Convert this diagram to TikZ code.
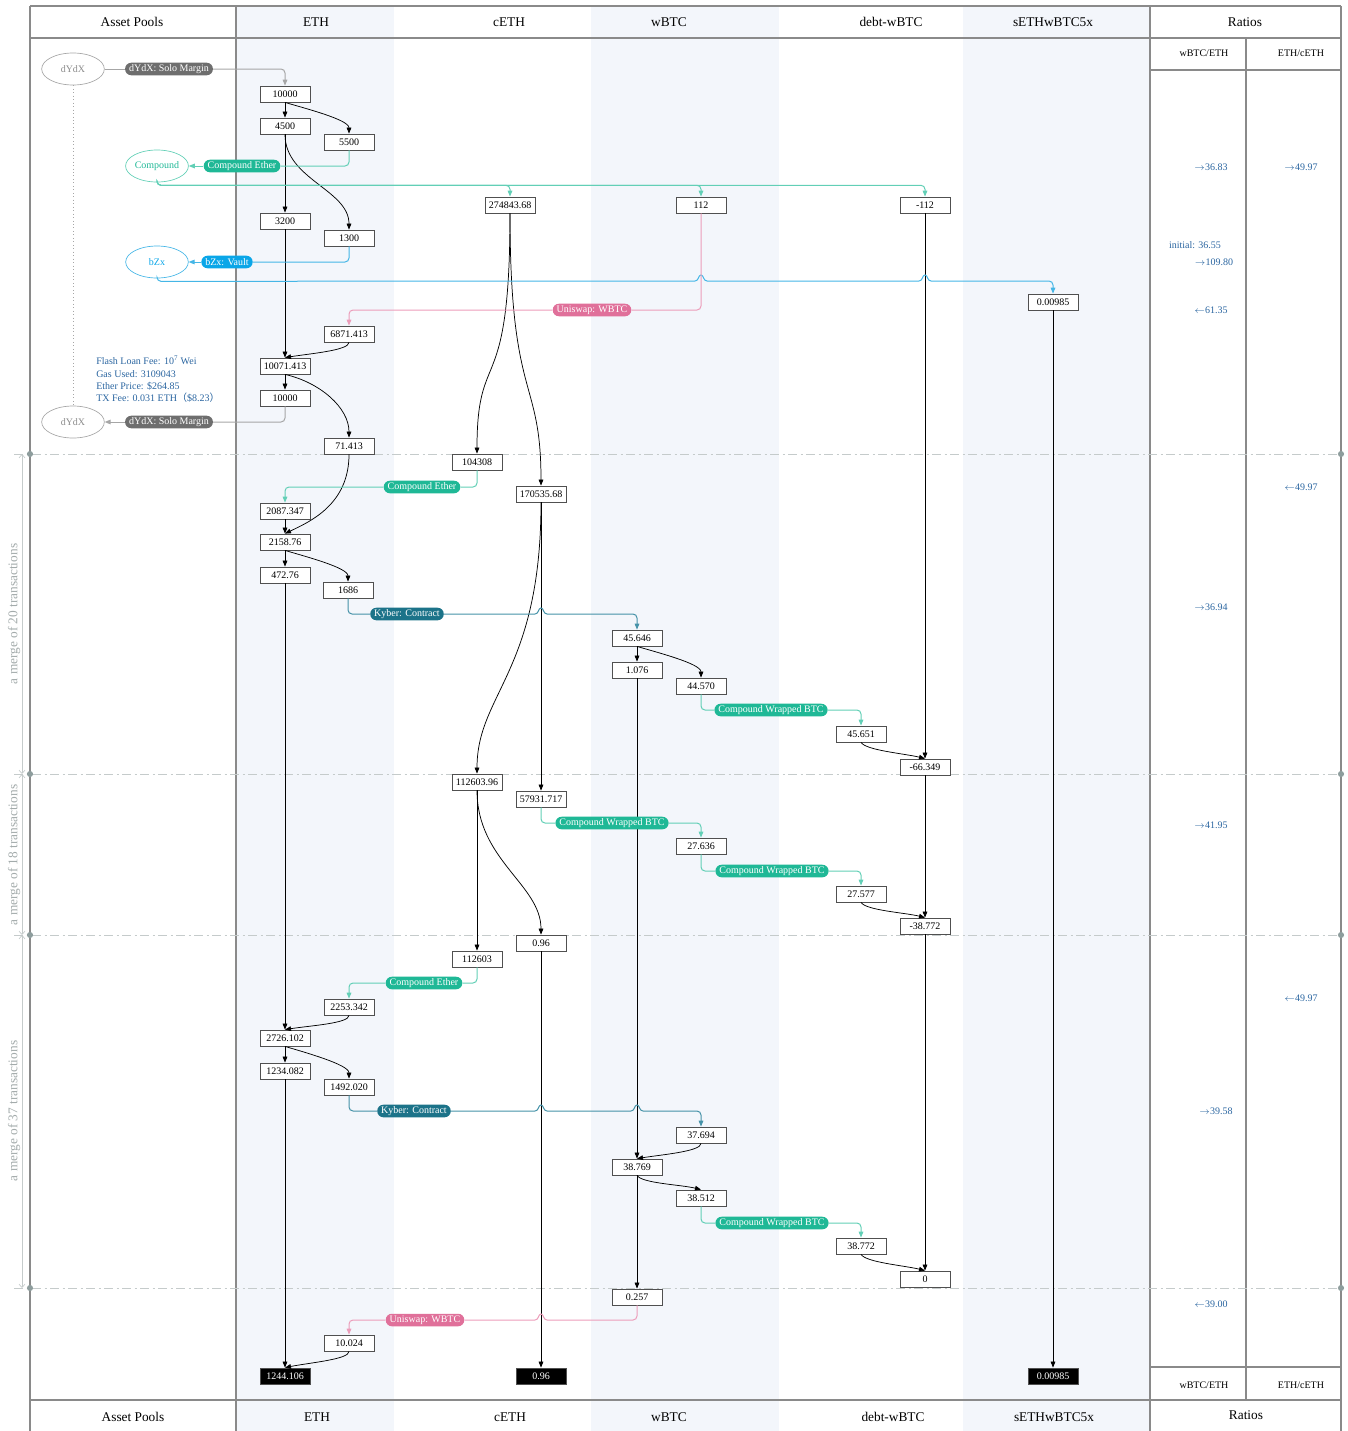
\documentclass[tikz,border=0pt]{standalone}
\usepackage{fontspec}
\setmainfont{Liberation Serif}
\newfontfamily\cjk{Noto Sans CJK SC}
\usetikzlibrary{arrows.meta, shapes.geometric}

\definecolor{colshade}{HTML}{F3F6FB}
\definecolor{framec}{HTML}{8A8A8A}
\definecolor{boxc}{HTML}{505050}
\definecolor{dydxc}{HTML}{6E6E6E}
\definecolor{dydxln}{HTML}{A6A6A6}
\definecolor{compc}{HTML}{1FB896}
\definecolor{compln}{HTML}{62CFB6}
\definecolor{bzxc}{HTML}{0AA6E8}
\definecolor{bzxln}{HTML}{45B6E6}
\definecolor{unic}{HTML}{E0709A}
\definecolor{uniln}{HTML}{EC9DBA}
\definecolor{kybc}{HTML}{1C7389}
\definecolor{kybln}{HTML}{4592A8}
\definecolor{notec}{HTML}{2A65A0}
\definecolor{cutc}{HTML}{C5CBCB}
\definecolor{cutdot}{HTML}{8E9D9D}
\definecolor{mergec}{HTML}{A3ABAB}

\newcommand{\valfont}{\fontsize{7.5}{8}\selectfont}
\newcommand{\headfont}{\fontsize{10}{12}\selectfont}
\newcommand{\smallfont}{\fontsize{7.5}{8}\selectfont}
\newcommand{\ra}{$\rightarrow$}
\newcommand{\la}{$\leftarrow$}
% little bridge where a wire jumps over a line
\newcommand{\hop}[2]{[sharp corners] -- ({#1-6},#2) .. controls ({#1-2},#2) and ({#1-3},{#2-6}) .. (#1,{#2-6}) .. controls ({#1+3},{#2-6}) and ({#1+2},#2) .. ({#1+6},#2) [rounded corners=3pt]}

\begin{document}
\begin{tikzpicture}[x=0.75pt, y=-0.75pt,
    valbox/.style={draw=boxc, line width=0.6pt, fill=white, minimum width=37.5pt, minimum height=12pt, inner sep=1pt, font=\valfont},
    endval/.style={valbox, fill=black, text=white},
    pill/.style={fill=#1, text=white, rounded corners=4.6pt, minimum height=9.4pt, inner xsep=3pt, inner ysep=0pt, font=\valfont},
    pool/.style={ellipse, draw=#1, line width=0.5pt, minimum width=47pt, minimum height=24pt, inner sep=0pt, font=\valfont},
    flow/.style={line width=0.55pt, -{Triangle[length=4.5pt,width=3.5pt]}},
    wire/.style={draw=#1, line width=0.75pt, rounded corners=3pt},
    wirearrow/.style={wire=#1, -{Triangle[length=4.5pt,width=3.5pt]}},
    framel/.style={draw=framec, line width=0.8pt},
    cutline/.style={draw=cutc, line width=0.7pt, dash pattern=on 7pt off 2.5pt on 1.5pt off 2.5pt},
    bracket/.style={draw=cutc, line width=0.5pt, {Straight Barb[length=2.5pt,width=4.5pt]}-{Straight Barb[length=2.5pt,width=4.5pt]}},
    mergetxt/.style={text=mergec, font=\headfont, rotate=90},
    rtxt/.style={text=notec, font=\smallfont, inner sep=0pt},
    headtxt/.style={font=\headfont},
    subhead/.style={font=\smallfont}]

\useasboundingbox (0,0) rectangle (1347,1431);

% column shading
\fill[colshade] (236,6) rectangle (394,1431);
\fill[colshade] (591,6) rectangle (779,1431);
\fill[colshade] (963,6) rectangle (1150,1431);

% table frame
\draw[framel] (30,6) -- (1341,6);
\draw[framel] (30,38) -- (1341,38);
\draw[framel] (30,1400) -- (1341,1400);
\draw[framel] (1150,70) -- (1341,70);
\draw[framel] (1150,1367) -- (1341,1367);
\draw[framel] (1246,38) -- (1246,1400);
\draw[framel] (30,6) -- (30,1431);
\draw[framel] (236,6) -- (236,1431);
\draw[framel] (1150,6) -- (1150,1431);
\draw[framel] (1341,6) -- (1341,1431);

% column titles
\node[headtxt] (tPools) at (132,22) {Asset Pools};
\node[headtxt] (tEth) at (316,22) {ETH};
\node[headtxt] (tCeth) at (509,22) {cETH};
\node[headtxt] (tWbtc) at (669,22) {wBTC};
\node[headtxt] (tDebt) at (891,22) {debt-wBTC};
\node[headtxt] (tSeth) at (1053,22) {sETHwBTC5x};
\node[headtxt] (tRatio) at (1245,22) {Ratios};
\node[subhead] (tRa) at (1204,53) {wBTC/ETH};
\node[subhead] (tRb) at (1301,53) {ETH/cETH};
\node[headtxt] (bPools) at (133,1417) {Asset Pools};
\node[headtxt] (bEth) at (317,1417) {ETH};
\node[headtxt] (bCeth) at (510,1417) {cETH};
\node[headtxt] (bWbtc) at (669,1417) {wBTC};
\node[headtxt] (bDebt) at (893,1417) {debt-wBTC};
\node[headtxt] (bSeth) at (1054,1417) {sETHwBTC5x};
\node[headtxt] (bRatio) at (1246,1415) {Ratios};
\node[subhead] (bRa) at (1204,1385) {wBTC/ETH};
\node[subhead] (bRb) at (1301,1385) {ETH/cETH};

% transaction groups
\foreach \y in {454,774,935,1288} {
  \draw[cutline] (14,\y) -- (1341,\y);
  \fill[cutdot] (30,\y) circle[radius=2.3pt];
  \fill[cutdot] (1341,\y) circle[radius=2.3pt];
}
\draw[bracket] (22,454) -- (22,774);
\draw[bracket] (22,774) -- (22,935);
\draw[bracket] (22,935) -- (22,1288);
\node[mergetxt] (m20) at (14,614) {a merge of 20 transactions};
\node[mergetxt] (m18) at (14,855) {a merge of 18 transactions};
\node[mergetxt] (m37) at (14,1111) {a merge of 37 transactions};

% pools
\node[pool=dydxln, text=dydxc!80] (dydxA) at (73,69) {dYdX};
\node[pool=dydxln, text=dydxc!80] (dydxB) at (73,422) {dYdX};
\node[pool=compln, text=compc] (comp) at (157,166) {Compound};
\node[pool=bzxln, text=bzxc] (bzx) at (157,262) {bZx};
\draw[dydxln, line width=0.6pt, dotted] (dydxA.south) -- (dydxB.north);

\node[text=notec, font=\fontsize{7.5}{9.3}\selectfont, align=left, anchor=west, inner sep=0pt] (fees) at (96,379.5)
  {Flash Loan Fee: 10\textsuperscript{7} Wei\\Gas Used: 3109043\\Ether Price: \$264.85\\TX Fee: 0.031 ETH{\cjk （}\$8.23{\cjk ）}};

% ETH
\node[valbox] (e1) at (285,94) {10000};
\node[valbox] (e2) at (285,126) {4500};
\node[valbox] (e3) at (349,142) {5500};
\node[valbox] (e4) at (285,221) {3200};
\node[valbox] (e5) at (349,238) {1300};
\node[valbox] (e6) at (349,334) {6871.413};
\node[valbox] (e7) at (285,366) {10071.413};
\node[valbox] (e8) at (285,398) {10000};
\node[valbox] (e9) at (349,446) {71.413};
\node[valbox] (e10) at (285,511) {2087.347};
\node[valbox] (e11) at (285,542) {2158.76};
\node[valbox] (e12) at (285,575) {472.76};
\node[valbox] (e13) at (348,590) {1686};
\node[valbox] (e14) at (349,1007) {2253.342};
\node[valbox] (e15) at (285,1038) {2726.102};
\node[valbox] (e16) at (285,1071) {1234.082};
\node[valbox] (e17) at (349,1087) {1492.020};
\node[valbox] (e18) at (349,1343) {10.024};
\node[endval] (eEnd) at (285,1376) {1244.106};

% cETH
\node[valbox] (c1) at (510,205) {274843.68};
\node[valbox] (c2) at (477,462) {104308};
\node[valbox] (c3) at (541,494) {170535.68};
\node[valbox] (c4) at (477,782) {112603.96};
\node[valbox] (c5) at (541,799) {57931.717};
\node[valbox] (c6) at (541,943) {0.96};
\node[valbox] (c7) at (477,959) {112603};
\node[endval] (cEnd) at (541,1376) {0.96};

% wBTC
\node[valbox] (w1) at (701,205) {112};
\node[valbox] (w2) at (637,638) {45.646};
\node[valbox] (w3) at (637,670) {1.076};
\node[valbox] (w4) at (701,686) {44.570};
\node[valbox] (w5) at (701,846) {27.636};
\node[valbox] (w6) at (701,1135) {37.694};
\node[valbox] (w7) at (637,1167) {38.769};
\node[valbox] (w8) at (701,1198) {38.512};
\node[valbox] (w9) at (637,1297) {0.257};

% debt-wBTC
\node[valbox] (d1) at (925,205) {-112};
\node[valbox] (d2) at (861,734) {45.651};
\node[valbox] (d3) at (925,767) {-66.349};
\node[valbox] (d4) at (861,894) {27.577};
\node[valbox] (d5) at (925,926) {-38.772};
\node[valbox] (d6) at (861,1246) {38.772};
\node[valbox] (d7) at (925,1279) {0};

% sETHwBTC5x
\node[valbox] (s1) at (1053,302) {0.00985};
\node[endval] (sEnd) at (1053,1376) {0.00985};

% balance flows
\draw[flow] (e1.south) -- (e2.north);
\draw[flow] (e1.south) .. controls +(20,6) and +(0,-14) .. (e3.north);
\draw[flow] (e2.south) -- (e4.north);
\draw[flow] (e2.south) .. controls +(0,45) and +(0,-40) .. (e5.north);
\draw[flow] (e4.south) -- (e7.north);
\draw[flow] (e6.south) .. controls +(0,8) and +(25,-4) .. (e7.north);
\draw[flow] (e7.south) -- (e8.north);
\draw[flow] (e7.south) .. controls +(35,8) and +(0,-30) .. (e9.north);
\draw[flow] (e9.south) .. controls +(0,50) and +(25,-12) .. (e11.north);
\draw[flow] (e10.south) -- (e11.north);
\draw[flow] (e11.south) -- (e12.north);
\draw[flow] (e11.south) .. controls +(20,6) and +(0,-14) .. (e13.north);
\draw[flow] (e12.south) -- (e15.north);
\draw[flow] (e14.south) .. controls +(0,8) and +(25,-4) .. (e15.north);
\draw[flow] (e15.south) -- (e16.north);
\draw[flow] (e15.south) .. controls +(20,6) and +(0,-14) .. (e17.north);
\draw[flow] (e16.south) -- (eEnd.north);
\draw[flow] (e18.south) .. controls +(0,8) and +(25,-5) .. (eEnd.north);
\draw[flow] (c1.south) .. controls +(0,190) and +(0,-110) .. (c2.north);
\draw[flow] (c1.south) .. controls +(0,190) and +(0,-110) .. (c3.north);
\draw[flow] (c3.south) .. controls +(0,170) and +(0,-80) .. (c4.north);
\draw[flow] (c3.south) -- (c5.north);
\draw[flow] (c4.south) -- (c7.north);
\draw[flow] (c4.south) .. controls +(0,70) and +(0,-50) .. (c6.north);
\draw[flow] (c6.south) -- (cEnd.north);
\draw[flow] (w2.south) -- (w3.north);
\draw[flow] (w2.south) .. controls +(20,6) and +(0,-14) .. (w4.north);
\draw[flow] (w3.south) -- (w7.north);
\draw[flow] (w6.south) .. controls +(0,8) and +(25,-4) .. (w7.north);
\draw[flow] (w7.south) .. controls +(5,8) and +(-20,-5) .. (w8.north);
\draw[flow] (w7.south) -- (w9.north);
\draw[flow] (d1.south) -- (d3.north);
\draw[flow] (d2.south) .. controls +(5,8) and +(-20,-5) .. (d3.north);
\draw[flow] (d3.south) -- (d5.north);
\draw[flow] (d4.south) .. controls +(5,8) and +(-20,-5) .. (d5.north);
\draw[flow] (d5.south) -- (d7.north);
\draw[flow] (d6.south) .. controls +(5,8) and +(-20,-5) .. (d7.north);
\draw[flow] (s1.south) -- (sEnd.north);

% contracts
\node[pill=dydxc] (lDydxA) at (169,69) {dYdX: Solo Margin};
\node[pill=dydxc] (lDydxB) at (169,422) {dYdX: Solo Margin};
\node[pill=compc] (lComp) at (242,166) {Compound Ether};
\node[pill=bzxc] (lBzx) at (227,262) {bZx: Vault};
\node[pill=unic] (lUni1) at (592,310) {Uniswap: WBTC};
\node[pill=compc] (lComp2) at (422,487) {Compound Ether};
\node[pill=kybc] (lKyb1) at (407,614) {Kyber: Contract};
\node[pill=compc] (lCwb1) at (771,710) {Compound Wrapped BTC};
\node[pill=compc] (lCwb2) at (612,823) {Compound Wrapped BTC};
\node[pill=compc] (lCwb3) at (772,871) {Compound Wrapped BTC};
\node[pill=compc] (lComp3) at (424,983) {Compound Ether};
\node[pill=kybc] (lKyb2) at (414,1111) {Kyber: Contract};
\node[pill=compc] (lCwb4) at (772,1223) {Compound Wrapped BTC};
\node[pill=unic] (lUni2) at (425,1320) {Uniswap: WBTC};

\draw[wire=dydxln] (dydxA.east) -- (lDydxA.west);
\draw[wirearrow=dydxln] (lDydxA.east) -| (e1.north);
\draw[wire=dydxln] (e8.south) |- (lDydxB.east);
\draw[wirearrow=dydxln] (lDydxB.west) -- (dydxB.east);
\draw[wire=compln] (e3.south) |- (lComp.east);
\draw[wirearrow=compln] (lComp.west) -- (comp.east);
\draw[wirearrow=compln] (comp.south) -- ++(0,3) -| (c1.north);
\draw[wirearrow=compln] (comp.south) -- ++(0,3) -| (w1.north);
\draw[wirearrow=compln] (comp.south) -- ++(0,3) -| (d1.north);
\draw[wire=bzxln] (e5.south) |- (lBzx.east);
\draw[wirearrow=bzxln] (lBzx.west) -- (bzx.east);
\draw[wirearrow=bzxln] (bzx.south) -- ++(0,3) \hop{701}{281} \hop{925}{281} -| (s1.north);
\draw[wire=uniln] (w1.south) |- (lUni1.east);
\draw[wirearrow=uniln] (lUni1.west) -| (e6.north);
\draw[wire=compln] (c2.south) |- (lComp2.east);
\draw[wirearrow=compln] (lComp2.west) -| (e10.north);
\draw[wire=kybln] (e13.south) |- (lKyb1.west);
\draw[wirearrow=kybln] (lKyb1.east) \hop{541}{614} -| (w2.north);
\draw[wire=compln] (w4.south) |- (lCwb1.west);
\draw[wirearrow=compln] (lCwb1.east) -| (d2.north);
\draw[wire=compln] (c5.south) |- (lCwb2.west);
\draw[wirearrow=compln] (lCwb2.east) -| (w5.north);
\draw[wire=compln] (w5.south) |- (lCwb3.west);
\draw[wirearrow=compln] (lCwb3.east) -| (d4.north);
\draw[wire=compln] (c7.south) |- (lComp3.east);
\draw[wirearrow=compln] (lComp3.west) -| (e14.north);
\draw[wire=kybln] (e17.south) |- (lKyb2.west);
\draw[wirearrow=kybln] (lKyb2.east) \hop{541}{1111} \hop{637}{1111} -| (w6.north);
\draw[wire=compln] (w8.south) |- (lCwb4.west);
\draw[wirearrow=compln] (lCwb4.east) -| (d6.north);
\draw[wire=uniln] (lUni2.east) \hop{541}{1320} -| (w9.south);
\draw[wirearrow=uniln] (lUni2.west) -| (e18.north);

% ratios
\node[rtxt] (r1) at (1211,167) {\ra36.83};
\node[rtxt] (r2) at (1301,167) {\ra49.97};
\node[rtxt] (r3) at (1195,245) {initial: 36.55};
\node[rtxt] (r4) at (1214,262) {\ra109.80};
\node[rtxt] (r5) at (1211,310) {\la61.35};
\node[rtxt] (r6) at (1301,487) {\la49.97};
\node[rtxt] (r7) at (1211,607) {\ra36.94};
\node[rtxt] (r8) at (1211,825) {\ra41.95};
\node[rtxt] (r9) at (1301,998) {\la49.97};
\node[rtxt] (r10) at (1216,1111) {\ra39.58};
\node[rtxt] (r11) at (1211,1304) {\la39.00};
\end{tikzpicture}
\end{document}
